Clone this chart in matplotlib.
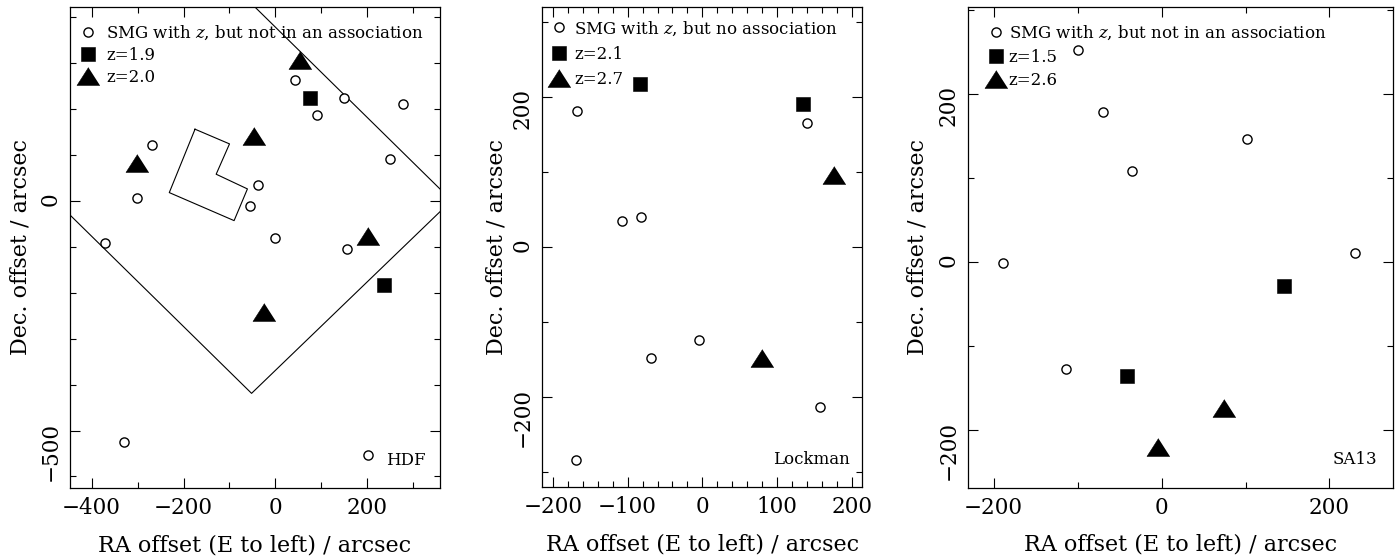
import matplotlib
matplotlib.use("Agg")
import matplotlib.pyplot as plt
from matplotlib.ticker import MultipleLocator

plt.rcParams['font.family'] = ['DejaVu Serif']
plt.rcParams['mathtext.fontset'] = 'dejavuserif'

# ---- HDF field ----
hdf_circ_x = [43, 149, 277, 90, -268, 249, -302, -39, -55, -371, -2, 155, -330, 202]
hdf_circ_y = [263, 225, 210, 187, 122, 91, 6, 35, -11, -91, -81, -105, -524, -554]
hdf_sq_x = [75, 236]
hdf_sq_y = [225, -184]
hdf_tri_x = [54, -47, -302, 201, -26]
hdf_tri_y = [307, 142, 82, -76, -242]
# survey boundary and HDF (WFPC2) outline
hdf_edge1_x = [-60, 370]
hdf_edge1_y = [437, 14]
hdf_edge2_x = [-460, -52, 370]
hdf_edge2_y = [-18, -419, -12]
wfpc_x = [-175, -100, -129, -61, -90, -231, -175]
wfpc_y = [156, 124, 58, 26, -43, 18, 156]

# ---- Lockman field ----
lock_circ_x = [-168, 140, -107, -82, -4, -69, 157, -169]
lock_circ_y = [181, 165, 34, 39, -124, -148, -214, -284]
lock_sq_x = [-83, 134]
lock_sq_y = [217, 190]
lock_tri_x = [176, 80]
lock_tri_y = [96, -148]

# ---- SA13 field ----
sa_circ_x = [-100, -70, -35, 102, -189, 230, -114]
sa_circ_y = [252, 178, 108, 146, -2, 11, -128]
sa_sq_x = [146, -41]
sa_sq_y = [-29, -136]
sa_tri_x = [74, -4]
sa_tri_y = [-174, -220]

tri = [(0, 0.78), (-1, -0.78), (1, -0.78)]


def panel(ax, cx, cy, sx, sy, tx, ty, labs, name):
    ax.plot(cx, cy, 'o', ms=6.6, mfc='white', mec='black', mew=1.0, label=labs[0])
    ax.plot(sx, sy, 's', ms=9.4, mfc='black', mec='black', mew=0.4, label=labs[1])
    ax.plot(tx, ty, ls='none', marker=tri, ms=16.5, mfc='black', mec='black',
            mew=0.4, label=labs[2])
    ax.text(0.962, 0.058, name, transform=ax.transAxes, ha='right', va='center',
            fontsize=12)
    ax.set_xlabel('RA offset (E to left) / arcsec', fontsize=16)
    ax.set_ylabel('Dec. offset / arcsec', fontsize=16)
    ax.xaxis.set_label_coords(0.5, -0.096)
    ax.tick_params(which='both', direction='in', top=True, right=True,
                   width=0.8, labelsize=15.5)
    ax.tick_params(which='major', length=7.5)
    ax.tick_params(which='minor', length=4)
    ax.tick_params(axis='x', pad=6.5)
    ax.tick_params(axis='y', labelrotation=90, pad=6)
    for sp in ax.spines.values():
        sp.set_linewidth(0.9)


fig = plt.figure(figsize=(14, 5.6), dpi=100)

# HDF
ax1 = fig.add_axes([0.05, 0.1286, 0.2643, 0.8589])
ax1.plot(hdf_edge1_x, hdf_edge1_y, 'k-', lw=0.8)
ax1.plot(hdf_edge2_x, hdf_edge2_y, 'k-', lw=0.8)
ax1.plot(wfpc_x, wfpc_y, 'k-', lw=0.8)
panel(ax1, hdf_circ_x, hdf_circ_y, hdf_sq_x, hdf_sq_y, hdf_tri_x, hdf_tri_y,
      [r'SMG with $z$, but not in an association', 'z=1.9', 'z=2.0'], 'HDF')
ax1.set_xlim(-447, 358)
ax1.set_ylim(-625, 422)
ax1.xaxis.set_major_locator(MultipleLocator(200))
ax1.xaxis.set_minor_locator(MultipleLocator(100))
ax1.yaxis.set_major_locator(MultipleLocator(500))
ax1.yaxis.set_minor_locator(MultipleLocator(100))
ax1.yaxis.set_label_coords(-0.103, 0.5)
ax1.legend(loc='upper left', bbox_to_anchor=(0.022, 0.966), frameon=False,
           fontsize=12, handlelength=1.2, handletextpad=0.48, labelspacing=0.31,
           borderpad=0, borderaxespad=0, numpoints=1)

# Lockman
ax2 = fig.add_axes([0.3874, 0.1298, 0.2286, 0.8583])
panel(ax2, lock_circ_x, lock_circ_y, lock_sq_x, lock_sq_y, lock_tri_x, lock_tri_y,
      [r'SMG with $z$, but no association', 'z=2.1', 'z=2.7'], 'Lockman')
ax2.set_xlim(-214, 214)
ax2.set_ylim(-321, 320)
ax2.xaxis.set_major_locator(MultipleLocator(100))
ax2.xaxis.set_minor_locator(MultipleLocator(20))
ax2.yaxis.set_major_locator(MultipleLocator(200))
ax2.yaxis.set_minor_locator(MultipleLocator(100))
ax2.yaxis.set_label_coords(-0.110, 0.5)
ax2.legend(loc='upper left', bbox_to_anchor=(0.022, 0.974), frameon=False,
           fontsize=12, handlelength=1.2, handletextpad=0.27, labelspacing=0.5,
           borderpad=0, borderaxespad=0, numpoints=1)

# SA13
ax3 = fig.add_axes([0.6912, 0.1291, 0.3040, 0.8579])
panel(ax3, sa_circ_x, sa_circ_y, sa_sq_x, sa_sq_y, sa_tri_x, sa_tri_y,
      [r'SMG with $z$, but not in an association', 'z=1.5', 'z=2.6'], 'SA13')
ax3.set_xlim(-231, 276)
ax3.set_ylim(-269, 303)
ax3.xaxis.set_major_locator(MultipleLocator(200))
ax3.xaxis.set_minor_locator(MultipleLocator(100))
ax3.yaxis.set_major_locator(MultipleLocator(200))
ax3.yaxis.set_minor_locator(MultipleLocator(100))
ax3.yaxis.set_label_coords(-0.092, 0.5)
ax3.legend(loc='upper left', bbox_to_anchor=(0.043, 0.966), frameon=False,
           fontsize=12, handlelength=1.2, handletextpad=0.16, labelspacing=0.40,
           borderpad=0, borderaxespad=0, numpoints=1)

fig.savefig('out.png', dpi=100)
